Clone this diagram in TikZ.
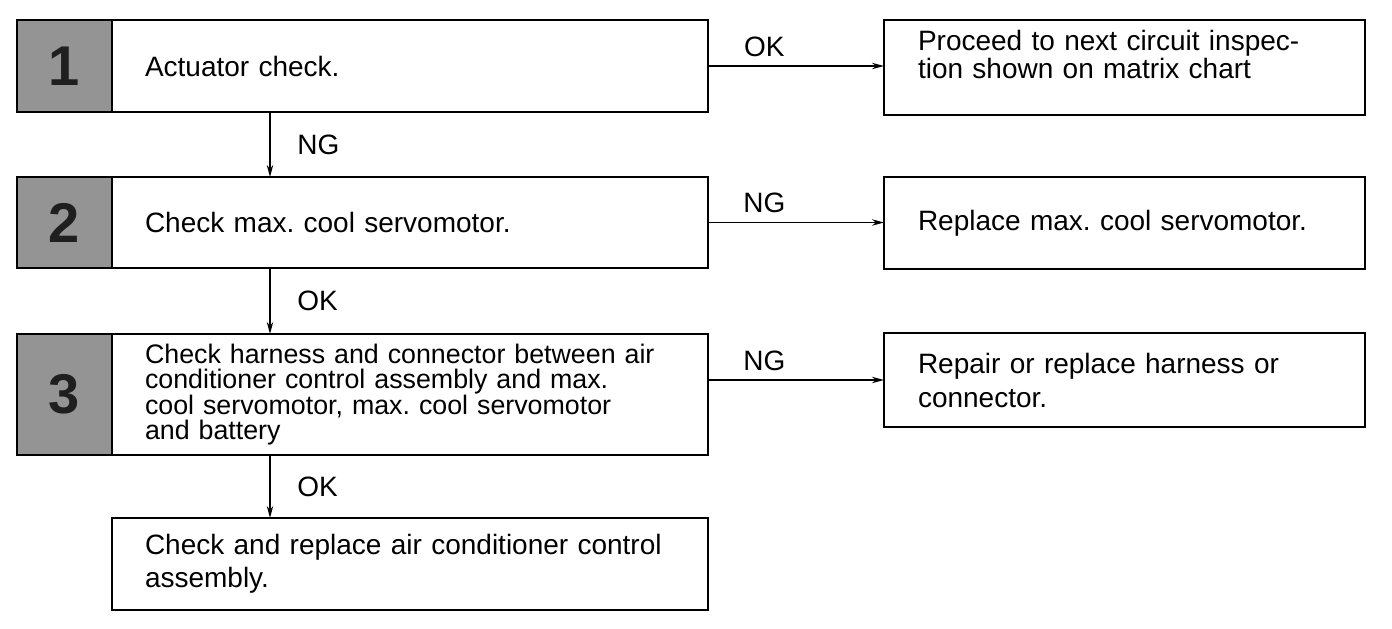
\documentclass[tikz,border=0pt]{standalone}
\usepackage{fontspec}
\setmainfont{Liberation Sans}
\usetikzlibrary{positioning,arrows.meta}
\frenchspacing

\begin{document}
\begin{tikzpicture}[x=0.5pt,y=-0.5pt,
      stepbox/.style={rectangle, draw, line width=1.3pt, outer sep=0pt,
        align=left, font=\fontsize{14}{13}\selectfont},
      mainbox/.style={stepbox, text width=265pt, inner xsep=16.5pt, minimum width=298pt},
      sidebox/.style={stepbox, text width=206.5pt, inner xsep=17pt, minimum width=240.5pt},
      numbox/.style={rectangle, draw, line width=1.3pt, outer sep=0pt, fill=black!42,
        text=black!88, minimum width=47.5pt, font=\fontsize{28}{28}\selectfont\bfseries},
      flow/.style={-{Stealth[length=6pt,width=3.2pt]}, line width=0.75pt},
      tag/.style={font=\fontsize{14}{14}\selectfont}
      ]
      \useasboundingbox (0,0) rectangle (1392,628);

      % left column
      \node[mainbox, minimum height=46pt] (b1) at (410,66) {Actuator check.};
      \node[mainbox, minimum height=45.5pt] (b2) at (410,222.5) {Check max. cool servomotor.};
      \node[mainbox, minimum height=60.5pt, font=\fontsize{13.4}{12.8}\selectfont] (b3) at (410,394.5)
        {\mbox{Check harness and connector between air}\\\mbox{conditioner control assembly and max.}\\\mbox{cool servomotor, max. cool servomotor}\\and battery};
      \node[mainbox, minimum height=46pt, font=\fontsize{14}{16.5}\selectfont] (b4) at (410,564)
        {Check and replace air conditioner control\\assembly.};

      \node[numbox, minimum height=46pt, left=0pt of b1] (n1) {1};
      \node[numbox, minimum height=45.5pt, left=0pt of b2] (n2) {2};
      \node[numbox, minimum height=60.5pt, left=0pt of b3] (n3) {3};

      % right column
      \node[sidebox, minimum height=47.5pt] (r1) at (1124.5,67.5)
        {Proceed to next circuit inspec-\\tion shown on matrix chart\\\mbox{}};
      \node[sidebox, minimum height=46pt] (r2) at (1124.5,223) {Replace max. cool servomotor.};
      \node[sidebox, minimum height=47pt, font=\fontsize{14}{17}\selectfont] (r3) at (1124.5,380)
        {Repair or replace harness or\\connector.};

      % connectors
      \draw[flow] ([xshift=79pt]b1.south west) -- node[tag, right=10pt] {NG} ([xshift=79pt]b2.north west);
      \draw[flow] ([xshift=79pt]b2.south west) -- node[tag, right=10pt] {OK} ([xshift=79pt]b3.north west);
      \draw[flow] ([xshift=79pt]b3.south west) -- node[tag, right=10pt] {OK} ([xshift=79pt]b4.north west);

      \draw[flow] (b1.east) -- node[tag, pos=0.32, above=1pt] {OK} (b1.east -| r1.west);
      \draw[flow] (b2.east) -- node[tag, pos=0.32, above=1pt] {NG} (b2.east -| r2.west);
      \draw[flow] (b3.east |- r3.west) -- node[tag, pos=0.32, above=1pt] {NG} (r3.west);
    \end{tikzpicture}
\end{document}
